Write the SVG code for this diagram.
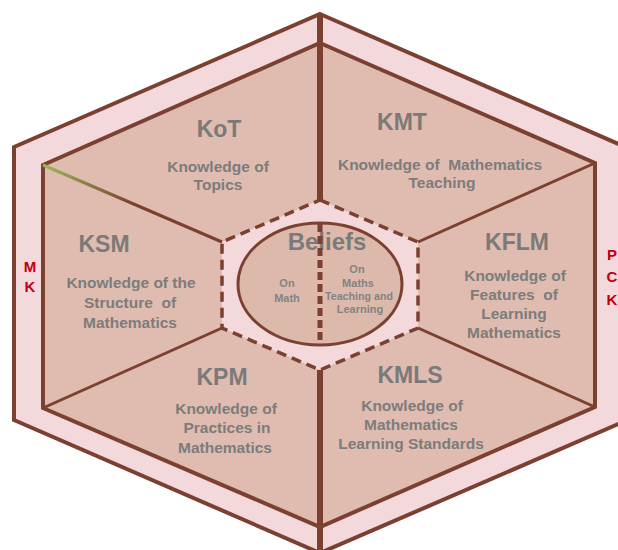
<svg xmlns="http://www.w3.org/2000/svg" width="618" height="550" viewBox="0 0 618 550">
<defs>
<linearGradient id="gr" gradientUnits="userSpaceOnUse" x1="43" y1="165" x2="222" y2="242">
<stop offset="0" stop-color="#9aba5a"/>
<stop offset="0.3" stop-color="#86723f"/>
<stop offset="0.5" stop-color="#7b4030"/>
</linearGradient>
<style>
.band{fill:#f3d8dc;stroke:#7b4030;stroke-width:4;stroke-linejoin:miter}
.inner{fill:#dfbcaf;stroke:#7b4030;stroke-width:4}
.center{fill:#f3d8dc;stroke:#7b4030;stroke-width:3.5;stroke-dasharray:10 6}
.spoke{stroke:#7b4030;stroke-width:3;fill:none}
.vspoke{stroke:#7b4030;stroke-width:6;fill:none}
.ell{fill:#dcb9ab;stroke:#7b4030;stroke-width:3}
.title{font-family:"Liberation Sans",Arial,sans-serif;font-weight:bold;font-size:23px;fill:#7a7a7a;text-anchor:middle}
.sub{font-family:"Liberation Sans",Arial,sans-serif;font-weight:bold;font-size:15.5px;fill:#7c7c7c;text-anchor:middle}
.small{font-family:"Liberation Sans",Arial,sans-serif;font-weight:bold;font-size:11px;fill:#838383;text-anchor:middle}
.red{font-family:"Liberation Sans",Arial,sans-serif;font-weight:bold;font-size:15px;fill:#c00010;text-anchor:middle}
</style>
</defs>
<rect width="618" height="550" fill="#ffffff"/>
<g id="frame">
<polygon class="band" points="320,14 630,149 630,419 320,553 14,420 14,147"/>
<polygon class="inner" points="320,43 595,163 595,407 320,527 43,408 43,165"/>
<polygon class="center" points="320,200 418,242 418,328 320,370 222,328 222,242"/>
</g>
<g id="connectors">
<line class="vspoke" x1="320" y1="14" x2="320" y2="200"/>
<line class="vspoke" x1="320" y1="370" x2="320" y2="553"/>
<line class="spoke" x1="43" y1="165" x2="222" y2="242" style="stroke:url(#gr)"/>
<line class="spoke" x1="43" y1="408" x2="222" y2="328"/>
<line class="spoke" x1="595" y1="163" x2="418" y2="242"/>
<line class="spoke" x1="595" y1="407" x2="418" y2="328"/>
</g>
<g id="MK">
<text class="red" x="30" y="272">M</text>
<text class="red" x="30" y="292">K</text>
</g>
<g id="PCK">
<text class="red" x="612" y="260">P</text>
<text class="red" x="612" y="282">C</text>
<text class="red" x="612" y="305">K</text>
</g>
<g id="KoT">
<text class="title" x="219" y="137">KoT</text>
<text class="sub" x="218" y="172">Knowledge of</text>
<text class="sub" x="218" y="190">Topics</text>
</g>
<g id="KMT">
<text class="title" x="402" y="130">KMT</text>
<text class="sub" x="440" y="170" xml:space="preserve">Knowledge of  Mathematics</text>
<text class="sub" x="442" y="188">Teaching</text>
</g>
<g id="KSM">
<text class="title" x="104" y="252">KSM</text>
<text class="sub" x="131" y="288">Knowledge of the</text>
<text class="sub" x="130" y="308" xml:space="preserve">Structure  of</text>
<text class="sub" x="130" y="328">Mathematics</text>
</g>
<g id="KFLM">
<text class="title" x="517" y="250">KFLM</text>
<text class="sub" x="515" y="281">Knowledge of</text>
<text class="sub" x="514" y="300" xml:space="preserve">Features  of</text>
<text class="sub" x="514" y="319">Learning</text>
<text class="sub" x="514" y="338">Mathematics</text>
</g>
<g id="KPM">
<text class="title" x="222" y="385">KPM</text>
<text class="sub" x="226" y="414">Knowledge of</text>
<text class="sub" x="227" y="433">Practices in</text>
<text class="sub" x="225" y="453">Mathematics</text>
</g>
<g id="KMLS">
<text class="title" x="410" y="383">KMLS</text>
<text class="sub" x="412" y="411">Knowledge of</text>
<text class="sub" x="411" y="430">Mathematics</text>
<text class="sub" x="411" y="449">Learning Standards</text>
</g>
<g id="Beliefs">
<ellipse class="ell" cx="320" cy="284" rx="82" ry="61"/>
<text class="title" x="327" y="250" style="font-size:24px">Beliefs</text>
<text class="small" x="287" y="287">On</text>
<text class="small" x="287" y="302">Math</text>
<text class="small" x="357" y="273">On</text>
<text class="small" x="358" y="287">Maths</text>
<text class="small" x="359" y="300" textLength="68" lengthAdjust="spacingAndGlyphs">Teaching and</text>
<text class="small" x="360" y="313">Learning</text>
<line x1="320" y1="224" x2="320" y2="345" stroke="#7b4030" stroke-width="5" stroke-dasharray="8 4"/>
</g>
</svg>
